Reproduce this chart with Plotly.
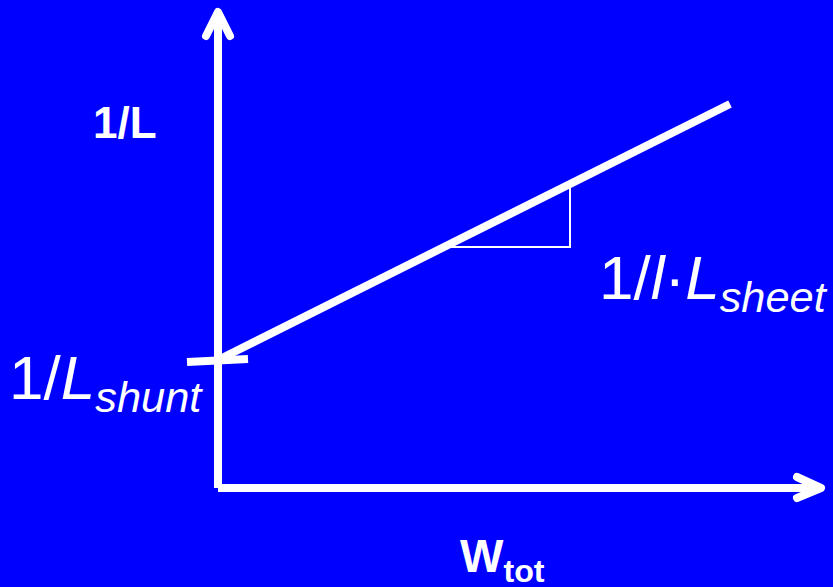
import plotly.graph_objects as go

# Schematic data (origin at the axes corner, units ~ pixels)
axis_y_x = [0, 0]
axis_y_y = [0, 474]
arrow_up_x = [-12, 0, 12]
arrow_up_y = [452, 476, 452]
axis_x_x = [0, 602]
axis_x_y = [0, 0]
arrow_right_x = [579, 603, 579]
arrow_right_y = [11, 0, -10]

line_w = [2, 512]          # W_tot
line_invL = [129, 384]     # 1/L
tick_w = [-31, 30]
tick_invL = [126, 129]
tri_w = [227, 352, 352]
tri_invL = [241, 241, 304]

FONT = "Liberation Sans, Arial, sans-serif"
WHITE = "#FFFFFF"
BLUE = "#0000FF"

fig = go.Figure()

def add_line(xs, ys, width):
    fig.add_trace(go.Scatter(x=xs, y=ys, mode="lines",
                             line=dict(color=WHITE, width=width),
                             hoverinfo="skip", showlegend=False))

add_line(axis_y_x, axis_y_y, 8)
add_line(arrow_up_x, arrow_up_y, 8)
add_line(axis_x_x, axis_x_y, 8)
add_line(arrow_right_x, arrow_right_y, 8)
add_line(line_w, line_invL, 8)
add_line(tick_w, tick_invL, 8)
add_line(tri_w, tri_invL, 2)

annotations = [
    dict(x=-93, y=366, text="<b>1/L</b>", xanchor="center", yanchor="middle",
         font=dict(size=44, color=WHITE, family=FONT)),
    dict(x=-211, y=106, text="1/<i>L</i><sub><i>shunt</i></sub>", xanchor="left", yanchor="middle",
         font=dict(size=62, color=WHITE, family=FONT)),
    dict(x=379, y=206, text="1/<i>l</i>·<i>L</i><sub><i>sheet</i></sub>", xanchor="left", yanchor="middle",
         font=dict(size=62, color=WHITE, family=FONT)),
    dict(x=240, y=-71, text="<b>W<sub>tot</sub></b>", xanchor="left", yanchor="middle",
         font=dict(size=46, color=WHITE, family=FONT)),
]
for a in annotations:
    a.update(xref="x", yref="y", showarrow=False)

fig.update_layout(
    width=833, height=587,
    margin=dict(l=0, r=0, t=0, b=0),
    paper_bgcolor=BLUE, plot_bgcolor=BLUE,
    xaxis=dict(range=[-218, 615], visible=False, fixedrange=True),
    yaxis=dict(range=[-99, 488], visible=False, fixedrange=True),
    annotations=annotations,
    showlegend=False,
)

fig.write_html(
    "out.html",
    config={"displayModeBar": False},
    post_script=(
        "document.body.style.margin='0';document.body.style.padding='0';"
        "document.body.style.background='#0000FF';document.body.style.overflow='hidden';"
        "var tr=document.querySelectorAll('.scatterlayer .trace');"
        "[1,3].forEach(function(i){if(tr[i]){tr[i].querySelectorAll('path.js-line').forEach(function(p){"
        "p.style.strokeLinecap='round';p.style.strokeLinejoin='round';});}});"
    ),
)
